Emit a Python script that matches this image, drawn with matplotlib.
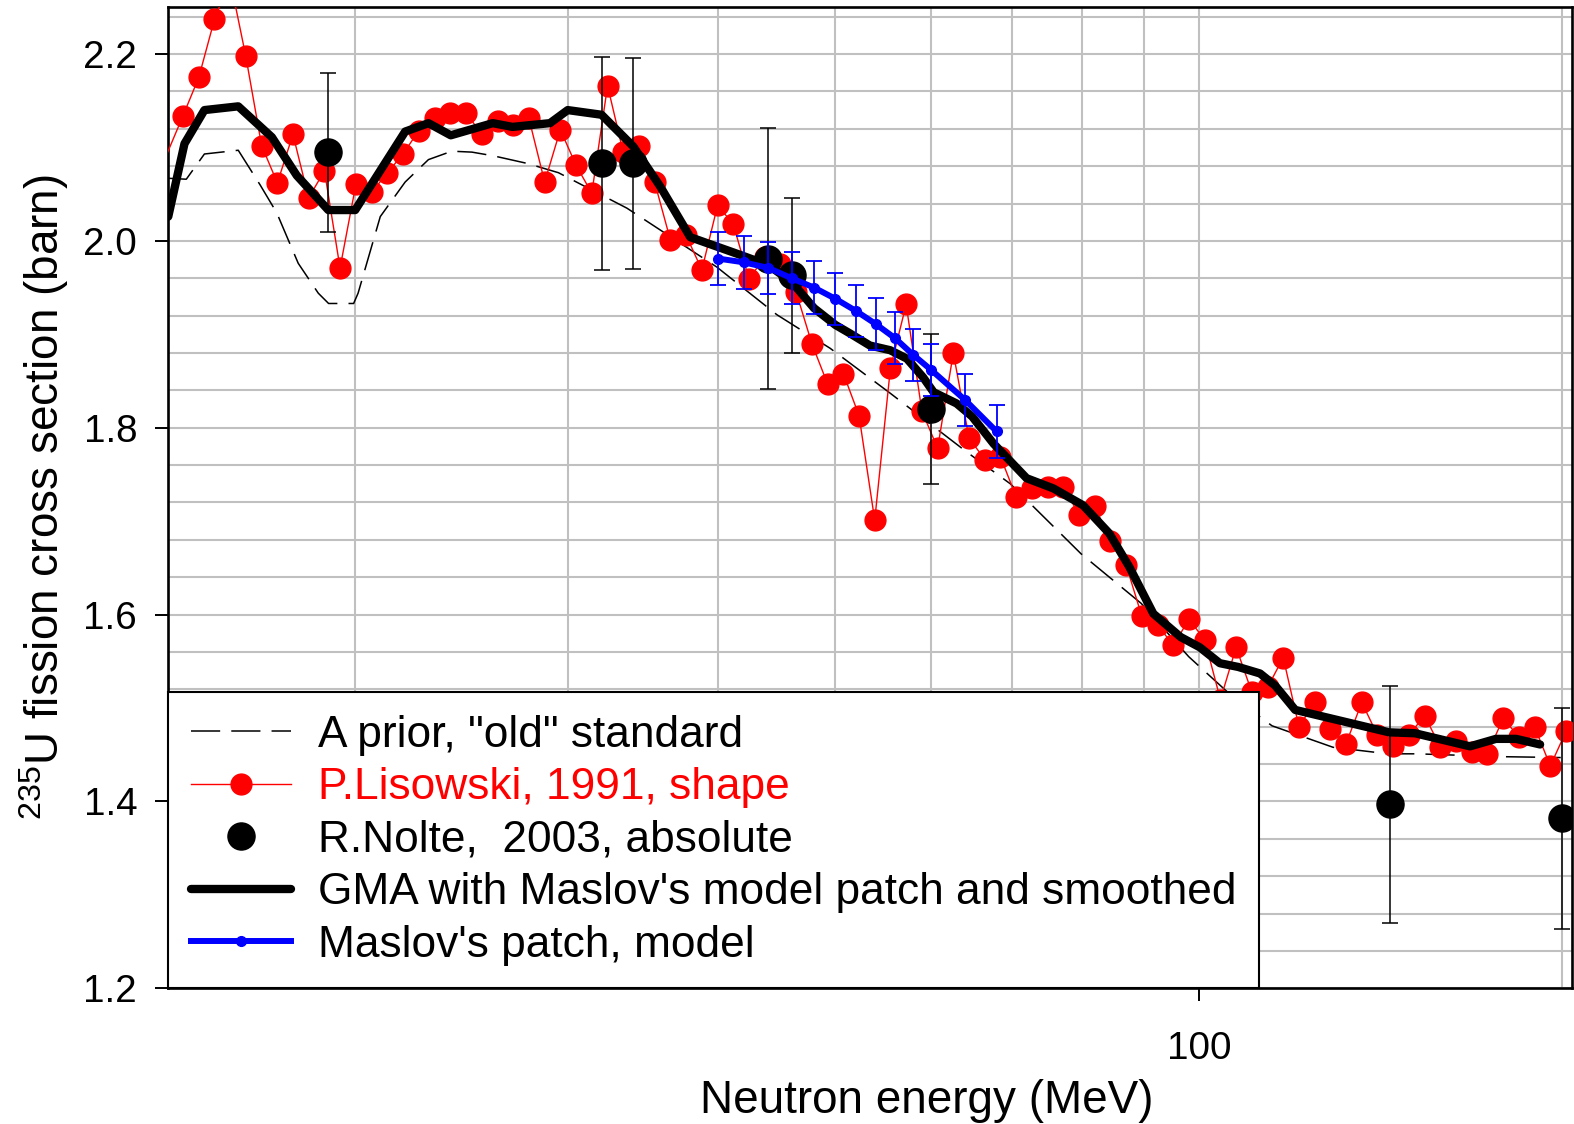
import matplotlib
matplotlib.use('Agg')
import matplotlib.pyplot as plt
from matplotlib.ticker import FixedLocator, FixedFormatter, NullFormatter
from matplotlib.lines import Line2D

plt.rcParams['font.family'] = ['Liberation Sans', 'DejaVu Sans']
plt.rcParams['mathtext.fontset'] = 'custom'
plt.rcParams['mathtext.rm'] = 'Liberation Sans'
plt.rcParams['mathtext.it'] = 'Liberation Sans:italic'
plt.rcParams['mathtext.bf'] = 'Liberation Sans:bold'
plt.rcParams['lines.scale_dashes'] = False

# ---------------- data ----------------
prior_E = [14.0, 14.49, 15.0, 16.0, 16.68, 17.22, 17.94, 18.64, 19.01, 19.94, 20.11,
           20.98, 22.0, 23.0, 24.05, 24.99, 26.04, 27.75, 29.47, 33.59, 39.87, 44.71,
           49.5, 55.5, 64.24, 69.8, 79.9, 89.6, 98.1, 106.7, 115.0, 129.2, 143.5,
           151.7, 177.3, 199.5]
prior_xs = [2.067, 2.066, 2.093, 2.097, 2.060, 2.030, 1.976, 1.944, 1.933, 1.933, 1.944,
            2.026, 2.063, 2.087, 2.096, 2.095, 2.091, 2.083, 2.073, 2.035, 1.972, 1.921,
            1.885, 1.837, 1.774, 1.740, 1.665, 1.612, 1.555, 1.512, 1.481, 1.458, 1.451,
            1.451, 1.448, 1.447]

lis_E = [13.50, 14.40, 14.84, 15.29, 15.75, 16.23, 16.73, 17.24, 17.76, 18.30, 18.86,
         19.43, 20.03, 20.64, 21.27, 21.91, 22.58, 23.27, 23.98, 24.71, 25.46,
         26.24, 27.03, 27.86, 28.71, 29.58, 30.48, 31.41, 32.37, 33.35, 34.37,
         35.41, 36.49, 37.60, 38.75, 39.93, 41.14, 42.40, 43.69, 45.02, 46.39,
         47.80, 49.25, 50.76, 52.30, 53.89, 55.53, 57.22, 58.96, 60.76, 62.61,
         64.51, 66.48, 68.50, 70.58, 72.73, 74.95, 77.23, 79.58, 82.00, 84.50,
         87.07, 89.72, 92.45, 95.26, 98.15, 101.14, 104.22, 107.39, 110.66, 114.02,
         117.49, 121.07, 124.75, 128.55, 132.46, 136.49, 140.64, 144.92, 149.33, 153.87,
         158.56, 163.38, 168.35, 173.47, 178.75, 184.19, 189.79, 195.57, 201.52]
lis_xs = [2.048, 2.134, 2.175, 2.237, 2.280, 2.198, 2.102, 2.062, 2.114, 2.046, 2.075,
          1.971, 2.061, 2.052, 2.073, 2.093, 2.118, 2.131, 2.137, 2.137, 2.114,
          2.128, 2.124, 2.131, 2.063, 2.119, 2.081, 2.051, 2.166, 2.095, 2.102,
          2.063, 2.001, 2.006, 1.969, 2.038, 2.018, 1.959, 1.983, 1.975, 1.945,
          1.890, 1.847, 1.858, 1.813, 1.701, 1.864, 1.932, 1.818, 1.778, 1.880,
          1.789, 1.766, 1.769, 1.726, 1.736, 1.737, 1.737, 1.707, 1.716, 1.679,
          1.653, 1.598, 1.589, 1.567, 1.595, 1.573, 1.509, 1.565, 1.517, 1.522,
          1.554, 1.480, 1.506, 1.478, 1.462, 1.506, 1.471, 1.459, 1.471, 1.492,
          1.458, 1.465, 1.453, 1.451, 1.489, 1.469, 1.480, 1.438, 1.475]

nolte_E = [19.0, 32.0, 34.0, 44.0, 46.0, 60.0, 144.0, 200.0]
nolte_xs = [2.095, 2.083, 2.083, 1.981, 1.963, 1.820, 1.397, 1.382]
nolte_err = [0.085, 0.114, 0.113, 0.140, 0.083, 0.080, 0.127, 0.118]

gma_E = [14.0, 14.44, 15.0, 16.0, 17.06, 17.89, 19.0, 20.0, 22.0, 23.0, 24.0, 26.0,
         27.0, 29.0, 30.0, 32.0, 34.0, 35.8, 37.9, 41.7, 44.0, 46.0, 48.0, 50.0,
         51.4, 53.4, 55.5, 57.3, 59.1, 60.3, 63.0, 64.9, 67.6, 72.0, 75.8, 80.2,
         84.3, 87.6, 91.7, 96.6, 100.2, 104.1, 107.8, 112.4, 115.7, 120.2, 143.8,
         151.1, 167.8, 176.3, 183.2, 191.8]
gma_xs = [2.026, 2.104, 2.140, 2.144, 2.111, 2.070, 2.033, 2.033, 2.117, 2.126, 2.113, 2.126,
          2.122, 2.126, 2.140, 2.135, 2.101, 2.058, 2.004, 1.985, 1.974, 1.956, 1.928, 1.910,
          1.901, 1.888, 1.883, 1.874, 1.854, 1.838, 1.826, 1.812, 1.783, 1.746, 1.735, 1.717,
          1.687, 1.651, 1.601, 1.576, 1.565, 1.548, 1.544, 1.537, 1.524, 1.498, 1.474,
          1.473, 1.459, 1.467, 1.467, 1.461]

maslov_E = [40, 42, 44, 46, 48, 50, 52, 54, 56, 58, 60, 64, 68]
maslov_xs = [1.981, 1.977, 1.971, 1.960, 1.950, 1.938, 1.925, 1.911, 1.896, 1.878,
             1.862, 1.830, 1.796]
maslov_err = [0.028, 0.028, 0.028, 0.028, 0.028, 0.028, 0.028, 0.028, 0.028, 0.028,
              0.028, 0.028, 0.028]

labels = ['A prior, "old" standard', 'P.Lisowski, 1991, shape',
          'R.Nolte,  2003, absolute', "GMA with Maslov's model patch and smoothed",
          "Maslov's patch, model"]
x_major = [100]
x_major_labels = ['100']
x_minor = [20, 30, 40, 50, 60, 70, 80, 90, 200]
y_ticks = [1.2, 1.4, 1.6, 1.8, 2.0, 2.2]
y_grid = [1.2 + 0.04 * i for i in range(27)]

# ---------------- figure ----------------
fig = plt.figure(figsize=(15.74, 11.24), dpi=100)
ax = fig.add_axes([0.1069, 0.1207, 0.8921, 0.8733])
ax.set_xscale('log')
ax.set_xlim(14.0, 204.0)
ax.set_ylim(1.2, 2.2506)

ax.xaxis.set_major_locator(FixedLocator(x_major))
ax.xaxis.set_major_formatter(FixedFormatter(x_major_labels))
ax.xaxis.set_minor_locator(FixedLocator(x_minor))
ax.xaxis.set_minor_formatter(NullFormatter())
ax.yaxis.set_major_locator(FixedLocator(y_ticks))
ax.yaxis.set_minor_locator(FixedLocator(y_grid))
ax.set_yticklabels(['%.1f' % v for v in y_ticks])

ax.grid(True, which='both', color='#c0c0c0', lw=1.5)
ax.set_axisbelow(True)

ax.tick_params(axis='both', which='major', labelsize=27.8, length=9.4, width=1.4,
               direction='out')
ax.tick_params(axis='y', which='major', pad=13)
ax.tick_params(axis='x', which='major', pad=21)
ax.tick_params(axis='both', which='minor', length=0)
for s in ax.spines.values():
    s.set_linewidth(1.9)

ax.plot(prior_E, prior_xs, color='k', lw=1.1, dashes=(21, 8), zorder=2)
ax.plot(lis_E, lis_xs, color='red', lw=1.0, marker='o', ms=15, mec='red', mfc='red', zorder=3)
ax.plot(gma_E, gma_xs, color='k', lw=6, solid_joinstyle='round', solid_capstyle='round', zorder=4)
ax.errorbar(nolte_E, nolte_xs, yerr=nolte_err, fmt='o', color='k', ms=19.5,
            elinewidth=1.1, capsize=6, capthick=1.1, zorder=5)
ax.errorbar(maslov_E, maslov_xs, yerr=maslov_err, color='blue', lw=4.3, marker='o', ms=7,
            elinewidth=1.3, capsize=6, capthick=1.3, zorder=6)

ax.set_xlabel('Neutron energy (MeV)', fontsize=33)
ax.xaxis.set_label_coords(0.540, -0.092)
ax.set_ylabel(r'$^{235}$U fission cross section (barn)', fontsize=33)
ax.yaxis.set_label_coords(-0.0696, 0.5)

handles = [
    Line2D([], [], color='k', lw=1.1, dashes=(21, 8)),
    Line2D([], [], color='red', lw=1.0, marker='o', ms=15),
    Line2D([], [], color='k', ls='none', marker='o', ms=19.5),
    Line2D([], [], color='k', lw=6, solid_capstyle='round'),
    Line2D([], [], color='blue', lw=4.3, marker='o', ms=7),
]
leg = ax.legend(handles, labels, loc='lower left', bbox_to_anchor=(0, 0),
                borderaxespad=0, fontsize=31.9, frameon=True, fancybox=False,
                edgecolor='k', framealpha=1, handlelength=2.27, handletextpad=0.59,
                borderpad=0.51, labelspacing=0.26)
leg.get_frame().set_linewidth(1.5)
leg.set_zorder(10)
leg.get_texts()[1].set_color('red')

fig.savefig('out.png', dpi=100)
